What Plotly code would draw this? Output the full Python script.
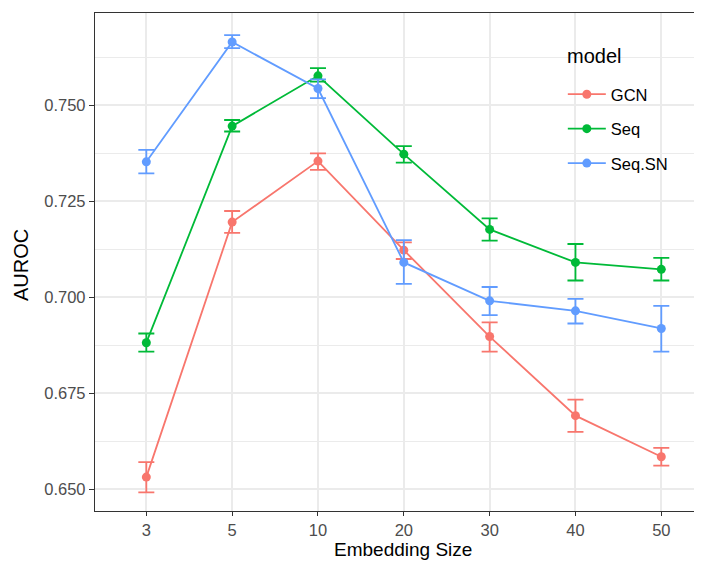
import plotly.graph_objects as go

sizes = ["3", "5", "10", "20", "30", "40", "50"]

gcn_mean = [0.6531, 0.7195, 0.7354, 0.7122, 0.6897, 0.6691, 0.6584]
gcn_hi   = [0.6570, 0.7224, 0.7374, 0.7142, 0.6934, 0.6733, 0.6607]
gcn_lo   = [0.6491, 0.7167, 0.7331, 0.7099, 0.6858, 0.6649, 0.6561]

seq_mean = [0.6881, 0.7445, 0.7576, 0.7372, 0.7176, 0.7090, 0.7072]
seq_hi   = [0.6905, 0.7461, 0.7596, 0.7393, 0.7205, 0.7138, 0.7102]
seq_lo   = [0.6858, 0.7431, 0.7561, 0.7350, 0.7147, 0.7043, 0.7043]

sn_mean = [0.7352, 0.7664, 0.7543, 0.7090, 0.6990, 0.6964, 0.6918]
sn_hi   = [0.7383, 0.7682, 0.7567, 0.7148, 0.7026, 0.6995, 0.6977]
sn_lo   = [0.7322, 0.7648, 0.7518, 0.7034, 0.6953, 0.6931, 0.6858]

models = ["GCN", "Seq", "Seq.SN"]
colors = ["#F8766D", "#00BA38", "#619CFF"]
series = [(gcn_mean, gcn_hi, gcn_lo), (seq_mean, seq_hi, seq_lo), (sn_mean, sn_hi, sn_lo)]

y_ticks = [0.650, 0.675, 0.700, 0.725, 0.750]
y_tick_labels = ["0.650", "0.675", "0.700", "0.725", "0.750"]
y_minor = [0.6625, 0.6875, 0.7125, 0.7375, 0.7625]

fig = go.Figure()
for name, color, (m, hi, lo) in zip(models, colors, series):
    fig.add_trace(go.Scatter(
        x=sizes, y=m, name=name, mode="lines+markers", legendgroup=name,
        line=dict(color=color, width=1.8),
        marker=dict(color=color, size=9),
        error_y=dict(type="data", symmetric=False,
                     array=[h - v for h, v in zip(hi, m)],
                     arrayminus=[v - l for l, v in zip(lo, m)],
                     color=color, thickness=1.8, width=8),
    ))

font = "Liberation Sans, Arial, sans-serif"

# legend background box (covers grid lines, like ggplot's legend inside panel)
fig.add_shape(type="rect", xref="paper", yref="paper",
              x0=0.768, x1=0.985, y0=0.6406, y1=0.9598,
              fillcolor="white", line=dict(width=0), layer="between")

fig.add_annotation(text="model", xref="paper", yref="paper",
                   x=0.7846, y=0.9130, xanchor="left", yanchor="middle",
                   showarrow=False, font=dict(size=20, color="black"))
fig.add_annotation(text="Embedding Size", xref="paper", yref="paper",
                   x=0.515, y=0, xanchor="center", yanchor="middle", yshift=-38.6,
                   showarrow=False, font=dict(size=19, color="black"))
fig.add_annotation(text="AUROC", xref="paper", yref="paper",
                   x=0, y=0.494, xanchor="center", yanchor="middle", xshift=-74,
                   textangle=-90, showarrow=False, font=dict(size=20, color="black"))

fig.update_layout(
    width=686, height=552,
    margin=dict(l=87, r=0, t=5, b=49),
    paper_bgcolor="white", plot_bgcolor="white",
    font=dict(family=font, color="black"),
    legend=dict(
        font=dict(size=16.5, color="black"),
        x=0.781, y=0.8715, xanchor="left", yanchor="top",
        bgcolor="rgba(0,0,0,0)", borderwidth=0,
        itemwidth=38, tracegroupgap=10,
    ),
    xaxis=dict(
        type="category", range=[-0.598, 6.381],
        tickfont=dict(size=16.5, color="#4D4D4D"),
        showgrid=True, gridcolor="#EBEBEB", gridwidth=1.8,
        showline=True, linecolor="#333333", linewidth=1.3, mirror=True,
        ticks="outside", ticklen=4, tickcolor="#333333", tickwidth=1.3,
        zeroline=False, automargin=False,
    ),
    yaxis=dict(
        range=[0.64427, 0.77396],
        tickvals=y_ticks, ticktext=y_tick_labels,
        tickfont=dict(size=16.5, color="#4D4D4D"),
        showgrid=True, gridcolor="#EBEBEB", gridwidth=1.8,
        minor=dict(tickvals=y_minor, showgrid=True, gridcolor="#EBEBEB",
                   gridwidth=0.9, ticks=""),
        showline=True, linecolor="#333333", linewidth=1.3, mirror=False,
        ticks="outside", ticklen=5, tickcolor="#333333", tickwidth=1.3,
        zeroline=False, automargin=False,
    ),
)

fig.write_html("out.html")
